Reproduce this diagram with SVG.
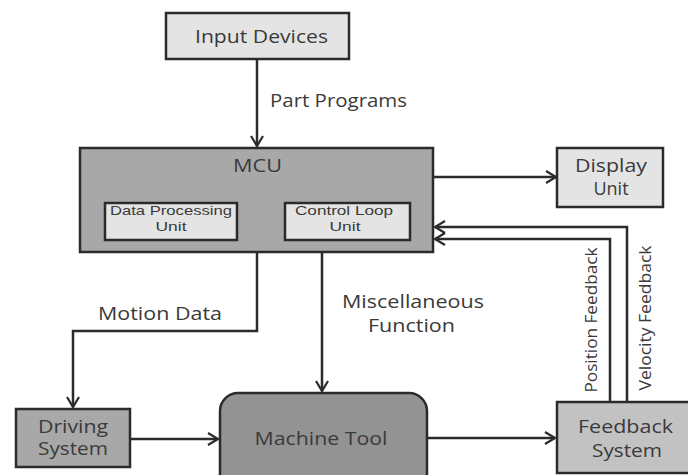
<svg xmlns="http://www.w3.org/2000/svg" width="688" height="475" viewBox="0 0 688 475">
<style>
.box{stroke:#2b2b2b;stroke-width:2.5}
.light{fill:#e4e4e4}
.mid{fill:#a8a8a8}
.dark{fill:#939393}
.fb{fill:#c2c2c2}
.t{font-family:"Open Sans","Liberation Sans",sans-serif;fill:#3a3a3a;text-anchor:middle}
.s{font-family:"Liberation Sans","Open Sans",sans-serif;fill:#3a3a3a;text-anchor:middle}
.c{stroke:#2b2b2b;stroke-width:2.5;fill:none}
</style>
<defs>
<marker id="ah" markerWidth="14" markerHeight="14" refX="11" refY="7" orient="auto" markerUnits="userSpaceOnUse">
<path d="M1,1 L11,7 L1,13" fill="none" stroke="#2b2b2b" stroke-width="2.2"/>
</marker>
</defs>
<rect width="688" height="475" fill="#fff"/>
<g id="connectors">
<path class="c" d="M257,59 V146" marker-end="url(#ah)"/>
<path class="c" d="M433,177 H556" marker-end="url(#ah)"/>
<path class="c" d="M627,402 V227 H435" marker-end="url(#ah)"/>
<path class="c" d="M610,402 V239 H435" marker-end="url(#ah)"/>
<path class="c" d="M257,252 V331 H73 V407" marker-end="url(#ah)"/>
<path class="c" d="M322,252 V391" marker-end="url(#ah)"/>
<path class="c" d="M130,439 H218" marker-end="url(#ah)"/>
<path class="c" d="M427,438 H555" marker-end="url(#ah)"/>
<text class="t" x="338.5" y="107" font-size="18" textLength="137" lengthAdjust="spacingAndGlyphs">Part Programs</text>
<text class="t" x="160" y="320" font-size="18" textLength="124" lengthAdjust="spacingAndGlyphs">Motion Data</text>
<text class="t" x="413" y="308" font-size="18" textLength="142" lengthAdjust="spacingAndGlyphs">Miscellaneous</text>
<text class="t" x="411.5" y="332" font-size="18" textLength="87" lengthAdjust="spacingAndGlyphs">Function</text>
<text class="t" transform="translate(597,320) rotate(-90)" font-size="16" textLength="145" lengthAdjust="spacingAndGlyphs">Position Feedback</text>
<text class="t" transform="translate(651,318) rotate(-90)" font-size="16" textLength="145" lengthAdjust="spacingAndGlyphs">Velocity Feedback</text>
</g>
<g id="input-devices">
<rect class="box light" x="166" y="13" width="183" height="46"/>
<text class="t" x="261.5" y="43" font-size="19" textLength="133" lengthAdjust="spacingAndGlyphs">Input Devices</text>
</g>
<g id="mcu">
<rect class="box mid" x="80" y="148" width="353" height="104"/>
<text class="t" x="257.5" y="172" font-size="18" textLength="49" lengthAdjust="spacingAndGlyphs">MCU</text>
</g>
<g id="data-processing">
<rect class="box light" x="105" y="203" width="132" height="37"/>
<text class="s" x="171" y="215" font-size="13.5" textLength="122" lengthAdjust="spacingAndGlyphs">Data Processing</text>
<text class="s" x="171" y="231" font-size="13.5" textLength="31" lengthAdjust="spacingAndGlyphs">Unit</text>
</g>
<g id="control-loop">
<rect class="box light" x="285" y="203" width="125" height="37"/>
<text class="s" x="344" y="215" font-size="13.5" textLength="98" lengthAdjust="spacingAndGlyphs">Control Loop</text>
<text class="s" x="345" y="231" font-size="13.5" textLength="31" lengthAdjust="spacingAndGlyphs">Unit</text>
</g>
<g id="display-unit">
<rect class="box light" x="557" y="148" width="106" height="59"/>
<text class="t" x="611" y="172" font-size="18" textLength="72" lengthAdjust="spacingAndGlyphs">Display</text>
<text class="t" x="611" y="195" font-size="18">Unit</text>
</g>
<g id="driving-system">
<rect class="box mid" x="16" y="409" width="114" height="58"/>
<text class="t" x="73" y="433" font-size="18" textLength="70" lengthAdjust="spacingAndGlyphs">Driving</text>
<text class="t" x="73" y="455" font-size="18" textLength="70" lengthAdjust="spacingAndGlyphs">System</text>
</g>
<g id="machine-tool">
<rect class="box dark" x="220" y="393" width="207" height="100" rx="18"/>
<text class="t" x="321" y="445" font-size="19" textLength="133" lengthAdjust="spacingAndGlyphs">Machine Tool</text>
</g>
<g id="feedback-system">
<rect class="box fb" x="557" y="402" width="133" height="71"/>
<text class="t" x="625.5" y="433" font-size="18" textLength="95" lengthAdjust="spacingAndGlyphs">Feedback</text>
<text class="t" x="627" y="457" font-size="18" textLength="70" lengthAdjust="spacingAndGlyphs">System</text>
</g>
</svg>
